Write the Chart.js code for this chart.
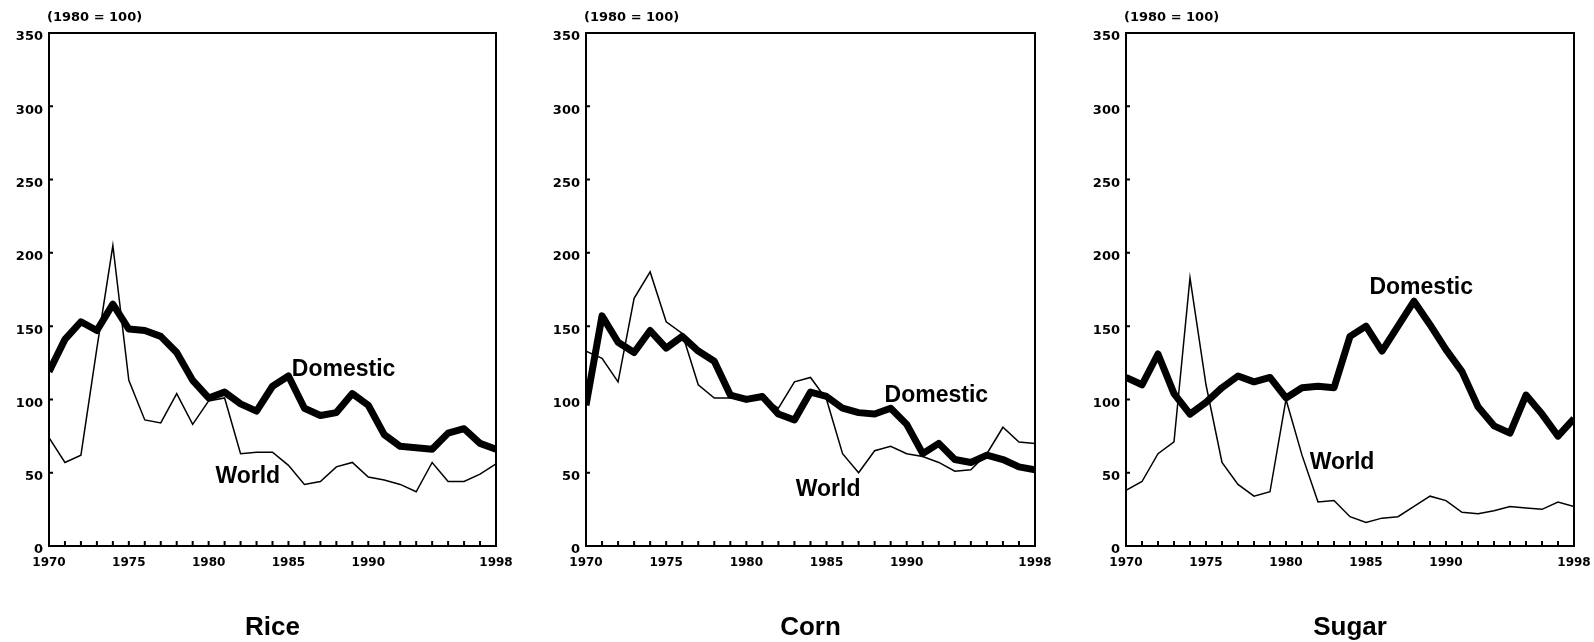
<!DOCTYPE html>
<html>
<head>
<meta charset="utf-8">
<title>Domestic and world prices</title>
<script src="https://cdn.jsdelivr.net/npm/chart.js@4.4.1/dist/chart.umd.min.js"></script>
<style>
  body { margin: 0; background: #fff; width: 1594px; height: 642px; overflow: hidden; position: relative; }
  .panel { position: absolute; top: 0; height: 642px; }
</style>
</head>
<body>
<div class="panel" style="left:-1px;width:517px"><canvas id="riceChart"></canvas></div>
<div class="panel" style="left:536px;width:519px"><canvas id="cornChart"></canvas></div>
<div class="panel" style="left:1076px;width:518px"><canvas id="sugarChart"></canvas></div>

<script>
// Index values, 1980 = 100
const years = [1970, 1971, 1972, 1973, 1974, 1975, 1976, 1977, 1978, 1979,
               1980, 1981, 1982, 1983, 1984, 1985, 1986, 1987, 1988, 1989,
               1990, 1991, 1992, 1993, 1994, 1995, 1996, 1997, 1998];
const xTickLabels = [1970, 1975, 1980, 1985, 1990, 1998];
const yTickLabels = [0, 50, 100, 150, 200, 250, 300, 350];

const riceDomestic = [119, 141, 153, 147, 165, 148, 147, 143, 132, 113, 101, 105, 97, 92, 109, 116, 94, 89, 91, 104, 96, 76, 68, 67, 66, 77, 80, 70, 66];
const riceWorld = [74, 57, 62, 135, 205, 113, 86, 84, 104, 83, 99, 101, 63, 64, 64, 55, 42, 44, 54, 57, 47, 45, 42, 37, 57, 44, 44, 49, 56];

const cornDomestic = [96, 157, 139, 132, 147, 135, 143, 133, 126, 103, 100, 102, 90, 86, 105, 102, 94, 91, 90, 94, 83, 63, 70, 59, 57, 62, 59, 54, 52];
const cornWorld = [133, 128, 112, 169, 187, 153, 145, 110, 101, 101, 100, 101, 94, 112, 115, 100, 63, 50, 65, 68, 63, 61, 57, 51, 52, 63, 81, 71, 70];

const sugarDomestic = [115, 110, 131, 104, 90, 98, 108, 116, 112, 115, 101, 108, 109, 108, 143, 150, 133, 150, 167, 151, 134, 119, 95, 82, 77, 103, 90, 75, 87];
const sugarWorld = [38, 44, 63, 71, 183, 110, 57, 42, 34, 37, 100, 62, 30, 31, 20, 16, 19, 20, 27, 34, 31, 23, 22, 24, 27, 26, 25, 30, 27];

// frame, inward tick marks and the text inside each plot
const framePlugin = {
    id: 'frame',
    afterDatasetsDraw(chart, args, opts) {
        const { ctx, chartArea: a, scales: { x, y } } = chart;
        ctx.save();
        ctx.strokeStyle = '#000';
        ctx.lineWidth = 2;
        ctx.strokeRect(a.left, a.top, a.right - a.left, a.bottom - a.top);

        ctx.beginPath();
        years.forEach(yr => {
            const px = x.getPixelForValue(yr);
            ctx.moveTo(px, a.bottom);
            ctx.lineTo(px, a.bottom - 5);
        });
        yTickLabels.forEach(v => {
            const py = y.getPixelForValue(v);
            ctx.moveTo(a.left, py);
            ctx.lineTo(a.left + 4, py);
        });
        ctx.stroke();

        ctx.fillStyle = '#000';
        ctx.textBaseline = 'middle';
        ctx.font = 'bold 13px "DejaVu Sans"';
        ctx.textAlign = 'left';
        ctx.fillText('(1980 = 100)', a.left - 2, 18);

        ctx.font = 'bold 23px "Liberation Sans"';
        ctx.textAlign = 'center';
        opts.notes.forEach(n => {
            ctx.fillText(n.text, x.getPixelForValue(n.x), y.getPixelForValue(n.y));
        });
        ctx.restore();
    }
};

function toPoints(values) {
    return years.map((yr, i) => ({ x: yr, y: values[i] }));
}

function makeChart(id, title, domestic, world, notes) {
    const ctx = document.getElementById(id).getContext('2d');
    return new Chart(ctx, {
        type: 'line',
        data: {
            datasets: [
                { label: 'World', data: toPoints(world), borderColor: '#000', borderWidth: 1.5, pointRadius: 0, tension: 0 },
                { label: 'Domestic', data: toPoints(domestic), borderColor: '#000', borderWidth: 7, pointRadius: 0, tension: 0, borderJoinStyle: 'round' }
            ]
        },
        options: {
            responsive: true,
            maintainAspectRatio: false,
            animation: false,
            layout: { padding: { top: 33, right: 20, left: 0, bottom: 0 } },
            plugins: {
                legend: { display: false },
                tooltip: { enabled: false },
                frame: { notes: notes }
            },
            scales: {
                x: {
                    type: 'linear',
                    min: 1970,
                    max: 1998,
                    grid: { display: false, drawTicks: false },
                    border: { display: false },
                    afterBuildTicks: s => { s.ticks = xTickLabels.map(v => ({ value: v })); },
                    afterFit: s => {
                        s.height = 96;
                        s.paddingLeft = 0;
                        s.paddingRight = 0;
                    },
                    ticks: {
                        autoSkip: false,
                        maxRotation: 0,
                        padding: 10,
                        color: '#000',
                        font: { family: 'DejaVu Sans', weight: 'bold', size: 12 },
                        callback: v => String(v)
                    },
                    title: {
                        display: true,
                        text: title,
                        color: '#000',
                        font: { family: 'Liberation Sans', weight: 'bold', size: 26, lineHeight: 1 },
                        padding: { top: 0, bottom: 1 }
                    }
                },
                y: {
                    min: 0,
                    max: 350,
                    grid: { display: false, drawTicks: false },
                    border: { display: false },
                    afterBuildTicks: s => { s.ticks = yTickLabels.map(v => ({ value: v })); },
                    afterFit: s => {
                        s.width = 50;
                        s.paddingTop = 0;
                        s.paddingBottom = 0;
                    },
                    ticks: {
                        padding: 6,
                        labelOffset: 4,
                        color: '#000',
                        font: { family: 'DejaVu Sans', weight: 'bold', size: 13 },
                        callback: v => String(v)
                    }
                }
            }
        },
        plugins: [framePlugin]
    });
}

makeChart('riceChart', 'Rice', riceDomestic, riceWorld, [
    { text: 'Domestic', x: 1988.45, y: 120 },
    { text: 'World', x: 1982.45, y: 47 }
]);
makeChart('cornChart', 'Corn', cornDomestic, cornWorld, [
    { text: 'Domestic', x: 1991.85, y: 102.5 },
    { text: 'World', x: 1985.1, y: 38.5 }
]);
makeChart('sugarChart', 'Sugar', sugarDomestic, sugarWorld, [
    { text: 'Domestic', x: 1988.45, y: 176.5 },
    { text: 'World', x: 1983.5, y: 56.7 }
]);
</script>
</body>
</html>
